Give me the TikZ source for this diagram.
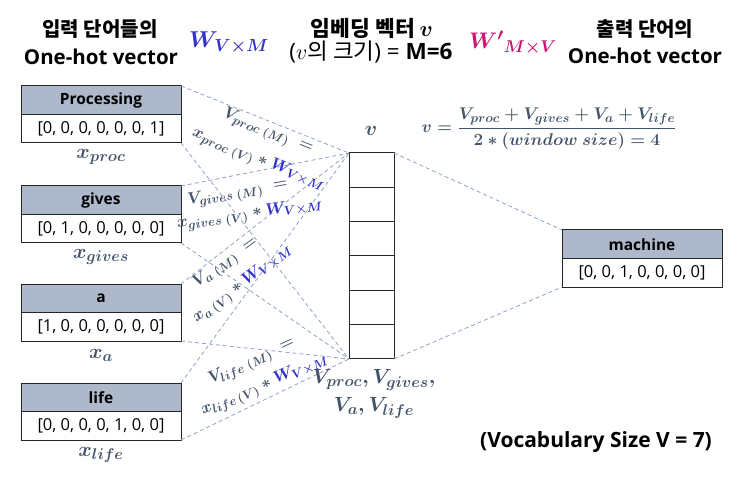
\RequirePackage{fix-cm}
\documentclass[tikz,border=0pt]{standalone}
\usepackage{amsmath}
\usepackage{fontspec}
\setmainfont{Open Sans}
\newfontfamily\kr{Noto Sans CJK KR}
\usetikzlibrary{calc}
\renewcommand\defaultscriptratio{.76}
\renewcommand\defaultscriptscriptratio{.6}
\definecolor{tg}{HTML}{44546A}
\definecolor{wb}{HTML}{3333CC}
\definecolor{wm}{HTML}{CC1470}
\definecolor{hdr}{HTML}{ADB9CA}
\definecolor{dl}{HTML}{8EA2C0}
\tikzset{
  hdrbox/.style={draw=black!85, line width=1pt, fill=hdr, minimum width=160pt, minimum height=28.5pt,
    inner sep=0pt, outer sep=0pt, anchor=north west, font=\bfseries\fontsize{15.5}{17}\selectfont},
  valbox/.style={draw=black!85, line width=1pt, fill=white, minimum width=160pt, minimum height=28.5pt,
    inner sep=0pt, outer sep=0pt, anchor=north west, font=\fontsize{16.5}{18}\selectfont},
  cell/.style={draw=black!85, line width=1pt, fill=white, minimum width=45pt, minimum height=34.33pt,
    inner sep=0pt, outer sep=0pt},
  lab/.style={text=tg, inner sep=0pt, font=\fontsize{16.5}{19}\selectfont\boldmath},
  xlab/.style={text=tg, inner sep=0pt, font=\fontsize{20.5}{22}\selectfont\boldmath},
  dline/.style={draw=dl, line width=0.8pt, dash pattern=on 4pt off 3pt},
  title/.style={inner sep=0pt, font=\kr\bfseries\fontsize{20}{22}\selectfont},
  titlelat/.style={inner sep=0pt, font=\bfseries\fontsize{20.5}{22}\selectfont},
}
\begin{document}
\begin{tikzpicture}[x=1pt,y=-1pt]
\useasboundingbox (0,0) rectangle (749,486);

% titles
\node[title] (t1) at (100,29) {입력 단어들의};
\node[titlelat] (t1b) at (101,57) {One-hot vector};
\node[inner sep=0pt, text=wb, font=\fontsize{23}{25}\selectfont\boldmath] (wt) at (229,43) {$W_{V\times M}$};
\node[title, font=\kr\bfseries\fontsize{21.5}{23}\selectfont] (t2) at (372,28) {임베딩 벡터 {\fontsize{22}{23}\selectfont\boldmath$v$}};
\node[inner sep=0pt, font=\fontsize{22.5}{24}\selectfont] (t2b) at (371,52) {({\fontsize{22}{24}\selectfont$v$}{\kr 의 크기}) = \textbf{M=6}};
\node[inner sep=0pt, text=wm, font=\fontsize{22.5}{24}\selectfont\boldmath] (wpt) at (513,43) {${W'}_{M\times V}$};
\node[title] (t3) at (645,29) {출력 단어의};
\node[titlelat] (t3b) at (645,56) {One-hot vector};

% input boxes
\node[hdrbox] (ph) at (21,86) {Processing};
\node[valbox] (pv) at (ph.south west) {[0, 0, 0, 0, 0, 0, 1]};
\node[xlab] (xp) at (101,157) {$x_{proc}$};

\node[hdrbox] (gh) at (21,186) {gives};
\node[valbox] (gv) at (gh.south west) {[0, 1, 0, 0, 0, 0, 0]};
\node[xlab] (xg) at (101,257) {$x_{gives}$};

\node[hdrbox] (ah) at (21,284) {a};
\node[valbox] (av) at (ah.south west) {[1, 0, 0, 0, 0, 0, 0]};
\node[xlab] (xa) at (101,355) {$x_{a}$};

\node[hdrbox] (lh) at (21,383) {life};
\node[valbox] (lv) at (lh.south west) {[0, 0, 0, 0, 1, 0, 0]};
\node[xlab] (xl) at (101,455) {$x_{life}$};

% output box
\node[hdrbox] (mh) at (562,230) {machine};
\node[valbox] (mv) at (mh.south west) {[0, 0, 1, 0, 0, 0, 0]};

% embedding vector
\foreach \i in {1,...,6} {
  \node[cell] (c\i) at (371.5,{153+34.33*(\i-0.5)}) {};
}
\node[xlab] (vlab) at (371,131) {$v$};

% connectors
\draw[dline] (ph.north east) -- (c1.north west);
\draw[dline] (pv.south east) -- (c6.south west);
\draw[dline] (gh.north east) -- (c1.north west);
\draw[dline] (gv.south east) -- (c6.south west);
\draw[dline] (ah.north east) -- (c1.north west);
\draw[dline] (av.south east) -- (c6.south west);
\draw[dline] (lh.north east) -- (c1.north west);
\draw[dline] (lv.south east) -- (c6.south west);
\draw[dline] (c1.north east) -- (mh.north west);
\draw[dline] (c6.south east) -- (mv.south west);

% rotated labels
\node[lab, rotate=-21.7] (lp1) at (268,132) {$V_{proc\;(M)}\;=$};
\node[lab, rotate=-22] (lp2) at (258,160) {$x_{proc\;(V)} * \textcolor{wb}{W_{V\times M}}$};
\node[lab, rotate=10] (lg1) at (238,193) {$V_{gives\;(M)}\;=$};
\node[lab, rotate=8] (lg2) at (250,215) {$x_{gives\;(V)} * \textcolor{wb}{W_{V\times M}}$};
\node[lab, rotate=36] (la1) at (226,263) {$V_{a\;(M)}\;=$};
\node[lab, rotate=37] (la2) at (243,285) {$x_{a\,(V)} * \textcolor{wb}{W_{V\times M}}$};
\node[lab, rotate=25] (ll1) at (252,362) {$V_{life\;(M)}\;=$};
\node[lab, rotate=23] (ll2) at (265,386) {$x_{life\,(V)} * \textcolor{wb}{W_{V\times M}}$};

% sum label under vector
\node[lab, align=center, font=\fontsize{20.5}{28}\selectfont\boldmath] (vsum) at (374,394) {$V_{proc},V_{gives},$\\$V_{a},V_{life}$};

% formula
\node[lab, font=\fontsize{17}{19}\selectfont\boldmath] (form) at (549,129)
  {$v=\dfrac{V_{proc}+V_{gives}+V_{a}+V_{life}}{2*(window\ size)=4}$};

% vocabulary
\node[inner sep=0pt, font=\bfseries\fontsize{21}{23}\selectfont] (voc) at (596,442) {(Vocabulary Size V = 7)};
\end{tikzpicture}
\end{document}
